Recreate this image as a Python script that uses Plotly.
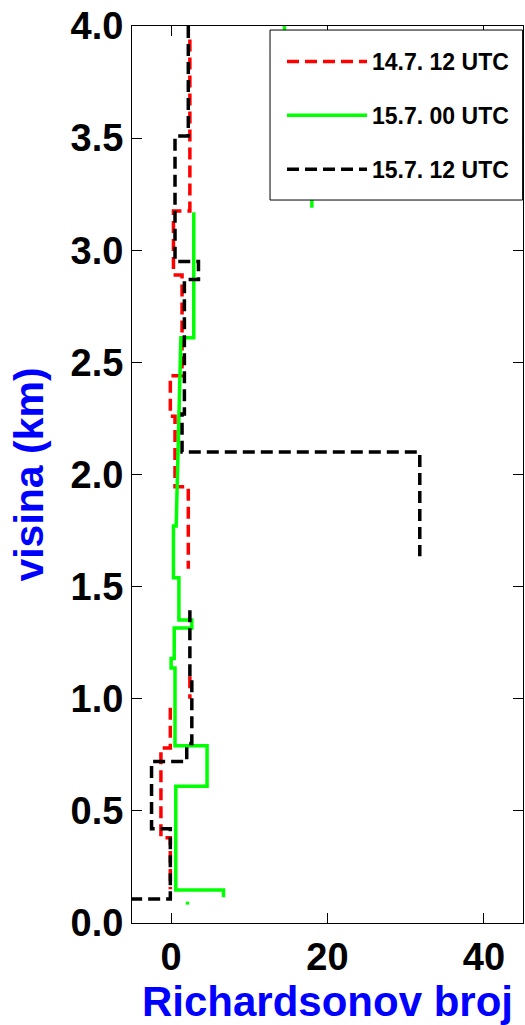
import plotly.graph_objects as go

# ---- data (step profiles: Richardson number vs height) ----
labels = ["14.7. 12 UTC", "15.7. 00 UTC", "15.7. 12 UTC"]
colors = ["#FF0000", "#00FF00", "#000000"]

ri_red = [2.4, 2.4, 0.3, 0.3, 1.4, 1.4, -0.1, -0.1, 0.5, 0.5, 2.2, 2.2, None,
          2.4, 2.4, None, -0.1, -0.1, -1.3, -1.3, -0.1, -0.1]
z_red = [3.94, 3.175, 3.175, 2.89, 2.89, 2.44, 2.44, 2.26, 2.26, 1.945, 1.945, 1.58, None,
         1.10, 1.00, None, 0.96, 0.78, 0.78, 0.38, 0.38, 0.15]

ri_green = [14.5, 14.5, 18.0, 18.0, None,
            2.9, 2.9, 1.25, 0.65, 0.3, 0.3, 1.0, 1.0, 2.65, 2.65, 0.4, 0.4, 0.0, 0.0,
            0.5, 0.5, 4.6, 4.6, 0.6, 0.6, 6.7, 6.7, None, 2.1, 2.1]
z_green = [4.05, 3.6, 3.6, 3.19, None,
           3.17, 2.61, 2.61, 1.77, 1.77, 1.54, 1.54, 1.351, 1.351, 1.315, 1.315, 1.18, 1.18, 1.137,
           1.137, 0.79, 0.79, 0.61, 0.61, 0.147, 0.147, 0.115, None, 0.095, 0.082]

ri_black = [2.2, 2.2, 0.5, 0.5, 3.5, 3.5, 1.7, 1.7, 1.4, 1.4, 31.8, 31.8, None,
            2.4, 2.4, 2.65, 2.65, 2.0, 2.0, -2.5, -2.5, -0.1, -0.1, -6.0]
z_black = [4.0, 3.51, 3.51, 2.95, 2.95, 2.87, 2.87, 2.27, 2.27, 2.10, 2.10, 1.636, None,
           1.395, 1.083, 1.083, 0.80, 0.80, 0.72, 0.72, 0.42, 0.42, 0.107, 0.107]

x_ticks = [0, 20, 40]
y_ticks = [0.0, 0.5, 1.0, 1.5, 2.0, 2.5, 3.0, 3.5, 4.0]

series = [(ri_red, z_red, "dash"), (ri_green, z_green, "solid"), (ri_black, z_black, "dash")]

fig = go.Figure()
for (xs, ys, dash), lab, col in zip(series, labels, colors):
    fig.add_trace(go.Scatter(
        x=xs, y=ys, mode="lines", name=lab, legendgroup=lab,
        connectgaps=False,
        line=dict(color=col, width=3.5, dash="12px,6px" if dash == "dash" else "solid"),
    ))

bold = dict(family="Liberation Sans, Arial, sans-serif", weight="bold")

# legend frame (white box covering the traces underneath, as in the original)
fig.add_shape(type="rect", xref="paper", yref="paper",
              x0=0.353, x1=0.999, y0=0.806, y1=0.9955,
              fillcolor="white", line=dict(color="black", width=1), layer="above")

fig.update_layout(
    width=525, height=1025,
    margin=dict(l=132, r=2, t=26, b=102),
    paper_bgcolor="white", plot_bgcolor="white",
    showlegend=True,
    legend=dict(
        x=0.977, xanchor="right", y=0.9844, yanchor="top",
        bgcolor="rgba(0,0,0,0)", borderwidth=0,
        font=dict(size=23, color="black", **bold),
        itemwidth=80, tracegroupgap=21, traceorder="grouped",
    ),
    xaxis=dict(
        range=[-5, 45], tickvals=x_ticks, ticktext=[str(v) for v in x_ticks],
        ticks="inside", ticklen=10, tickcolor="black", tickwidth=1,
        showline=True, linecolor="black", linewidth=1, mirror="ticks",
        showgrid=False, zeroline=False,
        tickfont=dict(size=38, color="black", **bold),
        title=dict(text="Richardsonov broj", font=dict(size=42, color="#0000FF", **bold), standoff=4),
    ),
    yaxis=dict(
        range=[0, 4], tickvals=y_ticks, ticktext=[f"{v:.1f}" for v in y_ticks],
        ticks="inside", ticklen=10, tickcolor="black", tickwidth=1,
        showline=True, linecolor="black", linewidth=1, mirror="ticks",
        showgrid=False, zeroline=False,
        tickfont=dict(size=38, color="black", **bold),
        title=dict(text="visina (km)", font=dict(size=41, color="#0000FF", **bold), standoff=14),
    ),
)

fig.write_html("out.html")
